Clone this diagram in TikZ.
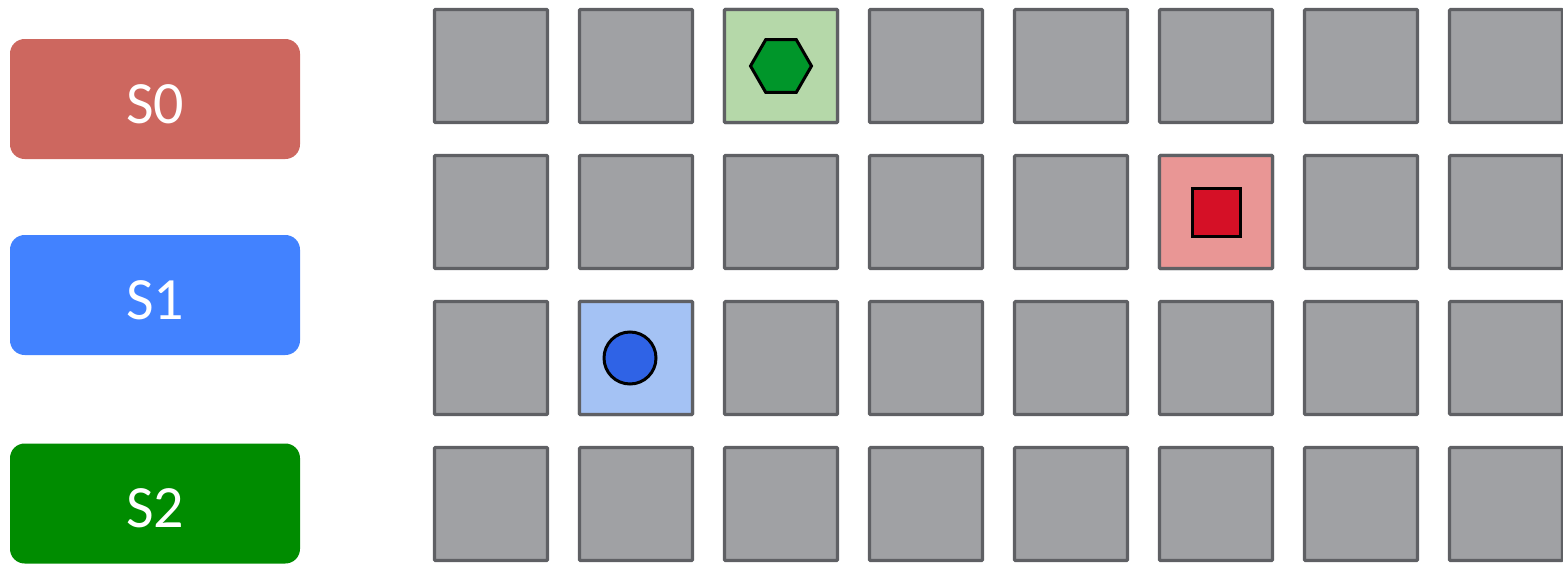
\documentclass[tikz,border=0pt]{standalone}
\usepackage{fontspec}
\setmainfont{Carlito}
\usetikzlibrary{shapes.geometric}
\definecolor{cellgray}{HTML}{A0A1A4}
\definecolor{celledge}{HTML}{5F6064}
\definecolor{tagred}{HTML}{CD675F}
\definecolor{tagblue}{HTML}{4282FF}
\definecolor{taggreen}{HTML}{008C00}
\definecolor{goalfill}{HTML}{B5D8A9}
\definecolor{trapfill}{HTML}{E99695}
\definecolor{startfill}{HTML}{A4C2F4}
\definecolor{hexgreen}{HTML}{00962A}
\definecolor{boxred}{HTML}{D51026}
\definecolor{ballblue}{HTML}{2F63E6}
\begin{document}
\begin{tikzpicture}[x=0.75pt, y=-0.75pt,
  cell/.style={draw=celledge, fill=cellgray, line width=2.4pt, minimum size=84.75pt, inner sep=0pt, rounded corners=0.75pt},
  tag/.style={rounded corners=11pt, minimum width=217.5pt, minimum height=90pt, inner sep=0pt, text height=36.5pt, text depth=0pt, text=white, font=\fontsize{45}{54}\selectfont},
  piece/.style={draw=black, line width=2.25pt, inner sep=0pt}]
\useasboundingbox (0,0) rectangle (1563,564);
% state labels
\node[tag, fill=tagred] (s0) at (155,99) {S0};
\node[tag, fill=tagblue] (s1) at (155,295) {S1};
\node[tag, fill=taggreen] (s2) at (155,503.5) {S2};
% the grid
\foreach \r in {0,...,3}
  \foreach \c in {0,...,7}
    \node[cell] (c\r\c) at ({491+145*\c},{66+146*\r}) {};
% marked cells
\node[cell, fill=goalfill] (goal) at (c02) {};
\node[cell, fill=trapfill] (trap) at (c15) {};
\node[cell, fill=startfill] (start) at (c21) {};
% pieces
\node[piece, regular polygon, regular polygon sides=6, minimum size=45.75pt, fill=hexgreen] (hex) at (goal) {};
\node[piece, rectangle, minimum size=36pt, fill=boxred] (box) at (trap) {};
\node[piece, circle, minimum size=39pt, fill=ballblue] (ball) at ([xshift=-4.5pt]start.center) {};
\end{tikzpicture}
\end{document}
